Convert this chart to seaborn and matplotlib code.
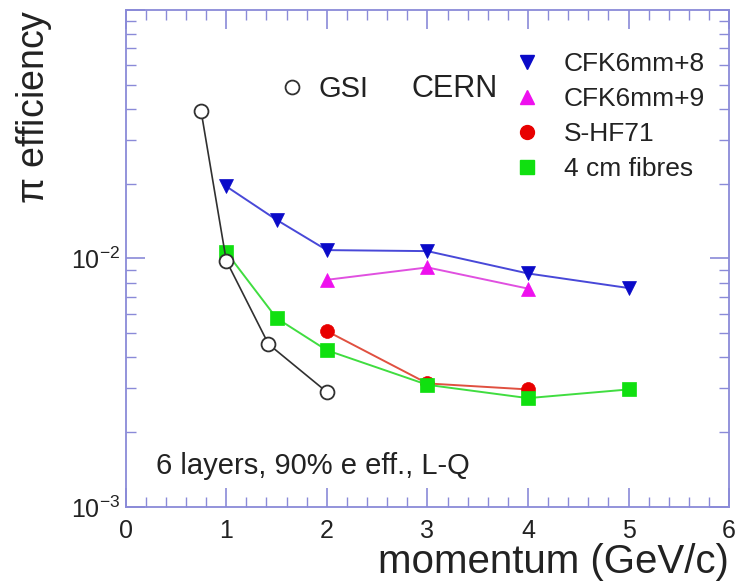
import numpy as np
import pandas as pd
import matplotlib
matplotlib.use("Agg")
import matplotlib.pyplot as plt
from matplotlib.lines import Line2D
from matplotlib.ticker import FixedLocator, NullFormatter, MultipleLocator
import seaborn as sns

# momentum (GeV/c) and pion efficiency per setup
gsi_p = [0.75, 1.0, 1.42, 2.0]
gsi_eff = [0.0391, 0.0098, 0.00452, 0.0029]

cfk8_p = [1.0, 1.5, 2.0, 3.0, 4.0, 5.0]
cfk8_eff = [0.0195, 0.0143, 0.0108, 0.0107, 0.0087, 0.0076]

cfk9_p = [2.0, 3.0, 4.0]
cfk9_eff = [0.0082, 0.0092, 0.00756]

shf_p = [2.0, 3.0, 4.0]
shf_eff = [0.0051, 0.00314, 0.00297]

fib_p = [1.0, 1.5, 2.0, 3.0, 4.0, 5.0]
fib_eff = [0.0106, 0.00575, 0.00427, 0.0031, 0.00274, 0.00297]

labels = ["CFK6mm+8", "CFK6mm+9", "S-HF71", "4 cm fibres"]

sns.set_theme(style="white")
plt.rcParams["font.family"] = ["Liberation Sans", "DejaVu Sans"]
plt.rcParams["mathtext.fontset"] = "custom"
plt.rcParams["mathtext.rm"] = "Liberation Sans"
plt.rcParams["mathtext.it"] = "Liberation Sans"

frame_col = "#8a8ad8"
text_col = "#222222"

fig = plt.figure(figsize=(7.35, 5.84), dpi=100)
ax = fig.add_axes([0.171, 0.132, 0.821, 0.851])

series = [
    (cfk8_p, cfk8_eff, "#0a0ac8", "#4848d8", "v", 10),
    (cfk9_p, cfk9_eff, "#ee10ee", "#e050e0", "^", 10),
    (shf_p, shf_eff, "#e80000", "#e05040", "o", 10),
    (fib_p, fib_eff, "#10e010", "#40dd40", "s", 9.5),
]

for p, eff, mcol, lcol, mk, ms in series:
    df = pd.DataFrame({"p": p, "eff": eff})
    sns.lineplot(data=df, x="p", y="eff", ax=ax, color=lcol, lw=1.4,
                 marker=mk, markersize=ms, markerfacecolor=mcol,
                 markeredgecolor=mcol, markeredgewidth=0.5, zorder=3)

gsi = pd.DataFrame({"p": gsi_p, "eff": gsi_eff})
sns.lineplot(data=gsi, x="p", y="eff", ax=ax, color="#303030", lw=1.2,
             marker="o", markersize=10, markerfacecolor="white",
             markeredgecolor="#303030", markeredgewidth=1.3, zorder=4)

ax.set_yscale("log")
ax.set_xlim(0, 6)
ax.set_ylim(1e-3, 1e-1)

ax.xaxis.set_major_locator(MultipleLocator(1))
ax.xaxis.set_minor_locator(MultipleLocator(0.2))
ax.yaxis.set_major_locator(FixedLocator([1e-3, 1e-2, 1e-1]))
ax.yaxis.set_minor_locator(FixedLocator(
    [k * 1e-3 for k in range(2, 10)] + [k * 1e-2 for k in range(2, 10)]))
ax.yaxis.set_minor_formatter(NullFormatter())
ax.set_yticklabels([r"$10^{-3}$", r"$10^{-2}$", ""])

for s in ax.spines.values():
    s.set_color(frame_col)
    s.set_linewidth(1.3)
ax.tick_params(which="both", direction="in", top=True, right=True,
               bottom=True, left=True,
               color=frame_col, labelsize=18, labelcolor=text_col)
ax.tick_params(which="major", length=14, width=1.2, pad=9)
ax.tick_params(axis="y", which="major", pad=4)
ax.tick_params(which="minor", length=7, width=1.0)

ax.set_xlabel("momentum (GeV/c)", fontsize=29, loc="right", color=text_col,
              labelpad=0)
ax.set_ylabel(r"$\pi$ efficiency", fontsize=27, loc="top", color=text_col,
              labelpad=12)

handles = [Line2D([], [], ls="none", marker=mk, markersize=ms,
                  markerfacecolor=mcol, markeredgecolor=mcol)
           for _, _, mcol, _, mk, ms in series]
leg = ax.legend(handles, labels, loc="upper left",
                bbox_to_anchor=(0.625, 0.937), frameon=False, fontsize=19,
                handlelength=1.0, handletextpad=0.9, labelspacing=0.42,
                labelcolor=text_col, borderaxespad=0.0)
ax.add_artist(leg)

gsi_handle = Line2D([], [], ls="none", marker="o", markersize=10,
                    markerfacecolor="white", markeredgecolor="#303030",
                    markeredgewidth=1.3)
ax.legend([gsi_handle], ["GSI"], loc="center left",
          bbox_to_anchor=(0.232, 0.84), frameon=False, fontsize=21,
          handlelength=1.0, handletextpad=0.4, labelcolor=text_col,
          borderaxespad=0.0)
ax.text(0.473, 0.84, "CERN", transform=ax.transAxes, fontsize=22,
        color=text_col, va="center")

ax.text(0.051, 0.083, "6 layers, 90% e eff., L-Q", transform=ax.transAxes,
        fontsize=21, color=text_col, va="center")

fig.savefig("out.png", dpi=100)
